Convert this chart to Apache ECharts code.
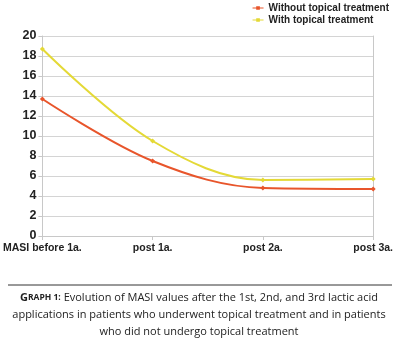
<!DOCTYPE html>
<html>
<head>
<meta charset="utf-8">
<script src="https://cdn.jsdelivr.net/npm/echarts@6/dist/echarts.min.js"></script>
<style>
  html, body { margin: 0; padding: 0; background: #fff; }
  #chart { width: 396px; height: 349px; }
</style>
</head>
<body>
<div id="chart"></div>
<script>
// MASI scores at each visit
const categories = ['MASI before 1a.', 'post 1a.', 'post 2a.', 'post 3a.'];
const withoutTopical = [13.7, 7.5, 4.8, 4.7];
const withTopical = [18.7, 9.5, 5.6, 5.7];
const yTicks = { min: 0, max: 20, interval: 2 };

const chart = echarts.init(document.getElementById('chart'), null, { renderer: 'canvas' });

const axisGray = '#c8c8c8';
const labelFont = 'Liberation Sans, Arial, sans-serif';
const markerIcon = 'path://M0,2.5L12,2.5L12,3.5L0,3.5Z M4,1L8,1L8,5L4,5Z';

chart.setOption({
  backgroundColor: '#ffffff',
  animation: false,
  grid: { left: 38, right: 16, top: 36, bottom: 113, containLabel: false },
  legend: {
    orient: 'vertical',
    right: 2,
    top: -2,
    itemGap: 2,
    itemWidth: 11,
    itemHeight: 6,
    textStyle: { fontFamily: labelFont, fontWeight: 'bold', fontSize: 10, color: '#222', padding: [0, 0, 0, 0] },
    data: [
      { name: 'Without topical treatment', icon: markerIcon },
      { name: 'With topical treatment', icon: markerIcon }
    ]
  },
  xAxis: {
    type: 'category',
    data: categories,
    boundaryGap: false,
    axisLine: { lineStyle: { color: axisGray, width: 1 } },
    axisTick: { show: true, length: 4, lineStyle: { color: axisGray } },
    axisLabel: { fontFamily: labelFont, fontWeight: 'bold', fontSize: 10.5, color: '#222', margin: 7 },
    splitLine: { show: false }
  },
  yAxis: [
    {
      type: 'value',
      min: yTicks.min,
      max: yTicks.max,
      interval: yTicks.interval,
      axisLine: { show: true, lineStyle: { color: axisGray } },
      axisTick: { show: true, length: 4, lineStyle: { color: axisGray } },
      axisLabel: { fontFamily: labelFont, fontWeight: 'bold', fontSize: 12.5, color: '#222', margin: 6 },
      splitLine: { lineStyle: { color: '#d4d4d4', width: 1 } }
    },
    {
      type: 'value',
      position: 'right',
      min: yTicks.min,
      max: yTicks.max,
      interval: yTicks.interval,
      axisLine: { show: true, lineStyle: { color: axisGray } },
      axisTick: { show: false },
      axisLabel: { show: false },
      splitLine: { show: false }
    }
  ],
  series: [
    {
      name: 'Without topical treatment',
      type: 'line',
      data: withoutTopical,
      smooth: 0.35,
      symbol: 'diamond',
      symbolSize: 5,
      color: '#e8552b',
      lineStyle: { width: 2, color: '#e8552b' },
      itemStyle: { color: '#e8552b' },
      z: 3
    },
    {
      name: 'With topical treatment',
      type: 'line',
      data: withTopical,
      smooth: 0.35,
      symbol: 'diamond',
      symbolSize: 5,
      color: '#e4d936',
      lineStyle: { width: 2, color: '#e4d936' },
      itemStyle: { color: '#e4d936' },
      z: 2
    }
  ],
  graphic: [
    {
      type: 'line',
      shape: { x1: 8, y1: 285, x2: 392, y2: 285 },
      style: { stroke: '#333', lineWidth: 1 }
    },
    {
      type: 'text',
      x: 199,
      y: 289,
      style: {
        text: '{b|G}{s|RAPH 1:} Evolution of MASI values after the 1st, 2nd, and 3rd lactic acid\napplications in patients who underwent topical treatment and in patients\nwho did not undergo topical treatment',
        align: 'center',
        verticalAlign: 'top',
        fontFamily: 'Open Sans, sans-serif',
        fontSize: 11,
        lineHeight: 17,
        fill: '#222',
        rich: {
          b: { fontFamily: 'Open Sans, sans-serif', fontWeight: 'bold', fontSize: 11, fill: '#222', lineHeight: 17 },
          s: { fontFamily: 'Open Sans, sans-serif', fontWeight: 'bold', fontSize: 8.5, fill: '#222', lineHeight: 17 }
        }
      }
    }
  ]
});
</script>
</body>
</html>
